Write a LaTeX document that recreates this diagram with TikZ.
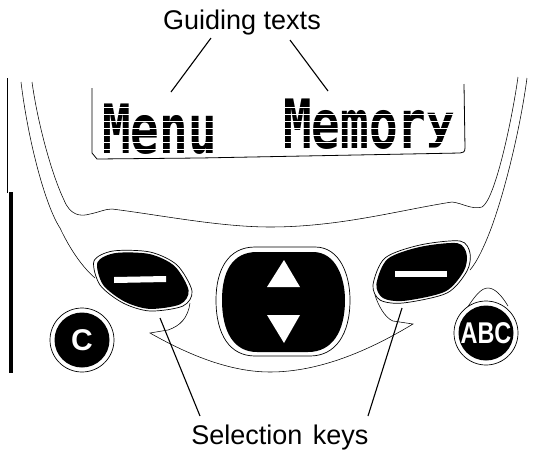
\documentclass[tikz,border=0pt]{standalone}
\usepackage{fontspec}
\usepackage{graphicx}
\setmainfont{Liberation Sans}
\newfontfamily\lcdfont{DejaVu Sans Mono Bold}
\newcommand{\leftkeyshape}{(94,261) (113,251) (150,252) (177,265) (192,291) (183,306) (150,311) (123,303) (100,285)}
\newcommand{\rightkeyshape}{(373,285) (385,258) (420,245) (460,241) (470,253) (467,271) (447,293) (403,303) (380,300)}
\newcommand{\lcdtext}[1]{\scalebox{0.7}[1]{\lcdfont\fontsize{68}{68}\selectfont #1}}
\begin{document}
\begin{tikzpicture}[x=1pt, y=-1pt,
        caption/.style = {font=\fontsize{27}{29}\selectfont, inner sep=0pt},
        leader/.style = {line width=1.1pt},
        contour/.style = {line width=0.55pt},
        keyedge/.style = {draw, circle, line width=0.7pt, fill=white, inner sep=0pt, minimum size=64pt},
        keyface/.style = {circle, fill=black, text=white, inner sep=0pt, minimum size=55pt, font=\bfseries\fontsize{30}{30}\selectfont}]
    \useasboundingbox (0,0) rectangle (539,456);

    % captions
    \node[caption] (guiding) at (242,23) {Guiding texts};
    \node[caption] (selection) at (280,438) {Selection\hspace{3pt} keys};

    % side bar
    \draw[line width=1.6pt] (7.5,78) -- (7.5,193);
    \draw[line width=3.6pt] (11,192) -- (11,373);

    % casing
    \draw[contour] (21,82) .. controls (28,140) and (45,205) .. (60,228) .. controls (68,245) and (80,265) .. (95,278);
    \draw[contour] (32,82) .. controls (38,125) and (52,175) .. (64,200) .. controls (70,215) and (80,217) .. (90,214)
        .. controls (100,212) and (105,209) .. (112,209) .. controls (160,215) and (220,227) .. (270,227)
        .. controls (340,227) and (400,210) .. (452,202) .. controls (462,203) and (472,210) .. (482,207)
        .. controls (495,200) and (512,120) .. (518,77);
    \draw[contour] (527,78) .. controls (520,130) and (505,190) .. (492,226) .. controls (485,245) and (477,262) .. (470,270);

    % display
    \draw[contour, line width=0.8pt] (92,88) -- (92,153) -- (97,159) -- (200,158) -- (460,153) .. controls (463,153) and (465,152) .. (465,148) -- (464,84);
    \node[inner sep=0pt, anchor=base west] (menu) at (102,153) {\lcdtext{Menu}};
    \node[inner sep=0pt, anchor=base west] (memory) at (283,148) {\lcdtext{Memor\raisebox{10pt}{\scalebox{1}[0.68]{y}}}};
    % segments of the lcd letters
    \foreach \row in {107,114,...,150}
        \draw[white, line width=0.8pt] (98,\row) -- (460,\row);

    % swoosh under the keys
    \draw[contour] (190,303) .. controls (188,318) and (180,326) .. (168,330) -- (150,333)
        .. controls (180,350) and (225,372) .. (270,372) .. controls (320,372) and (370,350) .. (413,324)
        -- (393,321) .. controls (385,318) and (378,305) .. (375,295);

    % soft keys
    \draw[fill=white, line width=0.7pt] plot[smooth cycle] coordinates {\leftkeyshape};
    \begin{scope}[shift={(143,281)}, scale=0.93, shift={(-143,-281)}]
        \fill plot[smooth cycle] coordinates {\leftkeyshape};
    \end{scope}
    \fill[white] (114,277) -- (166,276) -- (166,282) -- (114,283) -- cycle;

    \draw[fill=white, line width=0.7pt] plot[smooth cycle] coordinates {\rightkeyshape};
    \begin{scope}[shift={(422,272)}, scale=0.93, shift={(-422,-272)}]
        \fill plot[smooth cycle] coordinates {\rightkeyshape};
    \end{scope}
    \fill[white] (395,271) -- (447,271) -- (447,277) -- (395,277) -- cycle;

    % arrow key
    \draw[fill=white, line width=0.7pt] (255,247) -- (315,247) .. controls (340,247) and (350,275) .. (350,300) .. controls (350,335) and (335,356) .. (310,356)
        -- (255,356) .. controls (230,356) and (216,335) .. (216,300) .. controls (216,270) and (228,247) .. (255,247) -- cycle;
    \fill (257,252) -- (313,252) .. controls (336,252) and (345,278) .. (345,300) .. controls (345,332) and (332,352) .. (308,352)
        -- (257,352) .. controls (234,352) and (222,332) .. (222,300) .. controls (222,272) and (232,252) .. (257,252) -- cycle;
    \fill[white] (284,260) -- (300,287) -- (267,287) -- cycle;
    \fill[white] (284,343) -- (300,315) -- (267,315) -- cycle;

    % round keys
    \draw[contour] (467,308) .. controls (475,296) and (481,288) .. (488,288) .. controls (495,288) and (502,296) .. (508,306);
    \node[keyedge] (cedge) at (82,340) {};
    \node[keyface] (ckey) at (82,340) {C};
    \node[keyedge] (abcedge) at (486,333) {};
    \node[keyface] (abckey) at (486,333) {\scalebox{0.78}[1]{ABC}};

    % leaders
    \coordinate (menutop) at (211,38);
    \coordinate (menuend) at (171,92);
    \coordinate (memorytop) at (290,40);
    \coordinate (memoryend) at (328,91);
    \coordinate (leftend) at (160,318);
    \coordinate (leftlow) at (200,416);
    \coordinate (rightend) at (402,308);
    \coordinate (rightlow) at (368,416);
    \draw[leader] (menutop) -- (menuend);
    \draw[leader] (memorytop) -- (memoryend);
    \draw[leader] (leftend) -- (leftlow);
    \draw[leader] (rightend) -- (rightlow);
\end{tikzpicture}
\end{document}
